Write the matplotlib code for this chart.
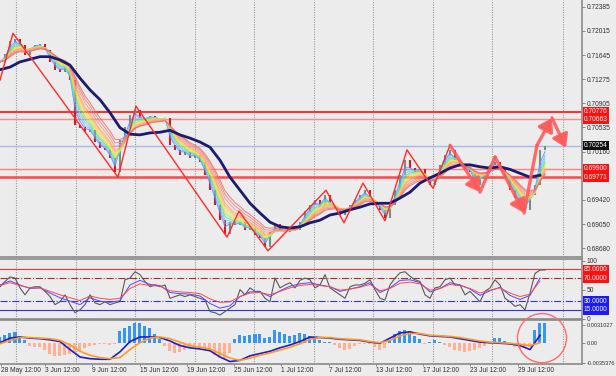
import matplotlib
matplotlib.use("Agg")
import matplotlib.pyplot as plt
import matplotlib.patches as patches
import pandas as pd

# price closes, one sample per 5 px of the original chart
closes = [0.7154, 0.7165, 0.7185, 0.7188, 0.7180, 0.7165, 0.7175, 0.7180, 0.7181, 0.7172,
          0.7154, 0.7142, 0.7138, 0.7145, 0.7126, 0.7057, 0.7053, 0.7046, 0.7049, 0.7031,
          0.7022, 0.7019, 0.7006, 0.6985, 0.7034, 0.7053, 0.7072, 0.7080, 0.7068, 0.7065,
          0.7071, 0.7068, 0.7065, 0.7068, 0.7026, 0.7019, 0.7011, 0.7016, 0.7006, 0.7011,
          0.7000, 0.6980, 0.6957, 0.6934, 0.6911, 0.6890, 0.6908, 0.6904, 0.6908, 0.6896,
          0.6899, 0.6888, 0.6884, 0.6870, 0.6893, 0.6904, 0.6896, 0.6893, 0.6899, 0.6896,
          0.6908, 0.6924, 0.6934, 0.6942, 0.6934, 0.6950, 0.6934, 0.6930, 0.6919, 0.6927,
          0.6934, 0.6942, 0.6950, 0.6957, 0.6942, 0.6934, 0.6927, 0.6914, 0.6934, 0.6957,
          0.6980, 0.7003, 0.6991, 0.6985, 0.6989, 0.6976, 0.6965, 0.6976, 0.6996, 0.7011,
          0.7019, 0.7003, 0.6996, 0.6989, 0.6985, 0.6965, 0.6973, 0.6985, 0.6996, 0.7000,
          0.6989, 0.6976, 0.6957, 0.6945, 0.6934, 0.6927, 0.6950, 0.6965, 0.7019, 0.7025]

# slow moving average (navy), one value every 2 samples
navy_ma = [0.7142, 0.7146, 0.7154, 0.7158, 0.7162, 0.7162, 0.7157, 0.7149, 0.7129, 0.7111,
           0.7096, 0.7076, 0.7053, 0.7043, 0.7042, 0.7045, 0.7046, 0.7049, 0.7042, 0.7037,
           0.7031, 0.7023, 0.7003, 0.6977, 0.6957, 0.6937, 0.6922, 0.6908, 0.6901, 0.6899,
           0.6901, 0.6907, 0.6911, 0.6919, 0.6922, 0.6927, 0.6931, 0.6936, 0.6937, 0.6937,
           0.6945, 0.6954, 0.6968, 0.6976, 0.6983, 0.6991, 0.6996, 0.6996, 0.6993, 0.6991,
           0.6993, 0.6989, 0.6983, 0.6977, 0.6980]

ribbon_spans = [2, 2.5, 3, 3.5, 4, 4.5, 5, 5.5, 6, 7, 8, 9]
ribbon_colors = ['#5a8cff', '#7ab4ff', '#66d4f0', '#5fe08a', '#9ee860', '#e8e84a',
                 '#ffd24d', '#ffb45a', '#ff9f70', '#ff8c80', '#f57a7a', '#e86a6a']

zigzag_x = [0, 2.6, 23.6, 27.2, 45.4, 47.8, 53.6, 65.2, 68.8, 72.6, 77.0, 81.4, 86.6, 90.0]
zigzag_y = [0.7126, 0.7198, 0.6977, 0.7086, 0.6885, 0.6925, 0.6864, 0.6957, 0.6907,
            0.6968, 0.6910, 0.7019, 0.6960, 0.7026]
# forecast path: thick segments, arrow heads on some
path_x = [90.0, 96.0, 99.0, 104.8, 107.4, 110.4, 113.2]
path_y = [0.7026, 0.6954, 0.7008, 0.6922, 0.7026, 0.7068, 0.7022]
path_arrow = [True, False, True, False, True, True]

hlines = [0.70776, 0.70663, 0.70254, 0.69900, 0.69771]
hline_colors = ['#ff2020', '#ff8888', '#a8b8f0', '#ff8080', '#ff4848']
hline_widths = [1.3, 1.0, 1.0, 1.0, 1.8]
hline_box = ['#ff1010', '#ff1010', '#101010', '#ff1010', '#ff1010']

price_ticks = [0.72385, 0.72015, 0.71645, 0.71275, 0.70905, 0.70535, 0.70160,
               0.69420, 0.69050, 0.68680]

# RSI panel
rsi_gray = [55, 64, 72, 70, 53, 41, 53, 55, 55, 47, 38, 24, 29, 41, 24, 10, 15, 24, 41, 27,
            24, 29, 24, 27, 29, 67, 70, 81, 76, 64, 55, 58, 55, 58, 35, 38, 41, 38, 41, 38,
            35, 32, 12, 10, 6, 12, 18, 24, 50, 41, 53, 47, 47, 35, 29, 70, 53, 58, 62, 53,
            66, 70, 67, 53, 58, 76, 53, 47, 41, 35, 55, 58, 58, 61, 67, 50, 35, 32, 58, 70,
            79, 81, 73, 67, 64, 41, 35, 53, 55, 67, 70, 58, 58, 41, 47, 38, 29, 47, 53, 67,
            58, 35, 29, 21, 24, 15, 44, 78, 84, 84]
rsi_blue = [58, 65, 58, 52, 53, 44, 36, 30, 24, 36, 30, 28, 31, 58, 66, 59, 57, 45, 43, 42,
            39, 26, 18, 22, 38, 46, 46, 38, 48, 56, 60, 62, 58, 55, 47, 51, 55, 62, 45, 53,
            66, 67, 62, 46, 52, 62, 58, 51, 40, 48, 54, 40, 33, 40, 70]
rsi_red = [57, 62, 57, 53, 53, 47, 41, 36, 31, 39, 35, 33, 35, 52, 60, 57, 56, 48, 46, 45,
           43, 34, 28, 29, 38, 44, 45, 41, 47, 53, 57, 59, 57, 55, 49, 51, 54, 59, 48, 52,
           61, 63, 60, 49, 52, 59, 57, 52, 44, 49, 53, 44, 38, 42, 65]
rsi_levels = [85, 70, 30, 15]
rsi_level_colors = ['#ff3030', '#c02828', '#3030ff', '#3030ff']
rsi_level_styles = ['-', '-.', '-.', '-']
rsi_box_colors = ['#ff1010', '#ff1010', '#1a1aff', '#1a1aff']

# MACD panel
macd_hist = [0.0010, 0.0014, 0.0017, 0.0019, 0.0012, 0.0004, -0.0005, -0.0007, -0.0008, -0.0012,
             -0.0020, -0.0023, -0.0024, -0.0022, -0.0019, -0.0016, -0.0014, -0.0009, -0.0005, -0.0004,
             -0.0003, -0.0003, -0.0004, -0.0002, 0.0020, 0.0025, 0.0030, 0.0034, 0.0034, 0.0030,
             0.0025, 0.0015, 0.0006, -0.0006, -0.0015, -0.0018, -0.0016, -0.0012, -0.0010, -0.0008,
             -0.0009, -0.0010, -0.0015, -0.0022, -0.0026, -0.0027, -0.0018, 0.0006, 0.0013, 0.0012,
             0.0014, 0.0016, 0.0015, 0.0008, 0.0010, 0.0022, 0.0019, 0.0015, 0.0012, 0.0014,
             0.0017, 0.0016, 0.0012, 0.0006, 0.0004, 0.0002, 0.0002, -0.0004, -0.0010, -0.0013,
             -0.0011, -0.0006, -0.0003, -0.0002, -0.0003, -0.0008, -0.0013, -0.0010, 0.0005, 0.0015,
             0.0021, 0.0022, 0.0020, 0.0012, 0.0006, -0.0003, 0.0002, 0.0004, 0.0002, -0.0004,
             -0.0008, -0.0012, -0.0015, -0.0016, -0.0014, -0.0012, -0.0010, -0.0005, -0.0002, 0.0008,
             0.0008, 0.0003, -0.0004, -0.0008, -0.0010, -0.0010, -0.0007, 0.0022, 0.0034, 0.0034]
macd_main = [0.0000, 0.0008, 0.0010, 0.0008, 0.0007, 0.0005, 0.0002, -0.0012, -0.0025, -0.0028,
             -0.0029, -0.0029, -0.0016, 0.0002, 0.0010, 0.0010, 0.0009, 0.0003, -0.0005, -0.0009,
             -0.0011, -0.0014, -0.0025, -0.0033, -0.0031, -0.0023, -0.0019, -0.0015, -0.0009, -0.0004,
             0.0002, 0.0010, 0.0009, 0.0008, 0.0006, 0.0005, 0.0004, 0.0001, -0.0001, 0.0008,
             0.0017, 0.0019, 0.0015, 0.0012, 0.0011, 0.0010, 0.0007, 0.0004, 0.0001, 0.0000,
             -0.0001, -0.0002, -0.0005, -0.0012, 0.0013]
macd_signal = [-0.0002, 0.0004, 0.0009, 0.0009, 0.0008, 0.0007, 0.0004, -0.0004, -0.0015, -0.0022,
               -0.0026, -0.0028, -0.0026, -0.0012, 0.0000, 0.0008, 0.0010, 0.0007, 0.0001, -0.0005,
               -0.0008, -0.0011, -0.0019, -0.0027, -0.0031, -0.0027, -0.0022, -0.0018, -0.0013, -0.0008,
               -0.0002, 0.0006, 0.0009, 0.0009, 0.0007, 0.0006, 0.0005, 0.0002, 0.0000, 0.0004,
               0.0012, 0.0016, 0.0016, 0.0013, 0.0012, 0.0011, 0.0009, 0.0006, 0.0003, 0.0001,
               0.0000, -0.0001, -0.0003, -0.0005, 0.0000]
macd_ticks = [0.0031027, 0.0, -0.0035376]
macd_labels = ['0.0031027', '0.00', '-0.0035376']
circle_center = (108.4, 0.0008)
circle_size = (9.8, 0.0086)

time_labels = ['28 May 12:00', '3 Jun 12:00', '9 Jun 12:00', '15 Jun 12:00', '19 Jun 12:00',
               '25 Jun 12:00', '1 Jul 12:00', '7 Jul 12:00', '13 Jul 12:00', '17 Jul 12:00',
               '23 Jul 12:00', '29 Jul 12:00']
time_pos = [0.2, 9, 18.5, 28, 37.4, 46.8, 56.3, 65.8, 75.2, 84.6, 94.1, 103.6]
week_grid = [3.2, 15.2, 27, 39, 50.8, 62.8, 74.6, 86.6, 98.4, 112.6]

BG = '#ececec'
FONT = 'Liberation Sans'
FS = 4.8
plt.rcParams['font.family'] = [FONT, 'DejaVu Sans']

W, H = 616, 376
fig = plt.figure(figsize=(W / 100, H / 100), dpi=100, facecolor=BG)


def rect(top, bottom):
    return [0, 1 - bottom / H, 582 / W, (bottom - top) / H]


ax1 = fig.add_axes(rect(0, 257))
ax2 = fig.add_axes(rect(259, 318.5), sharex=ax1)
ax3 = fig.add_axes(rect(320, 364), sharex=ax1)

for ax in (ax1, ax2, ax3):
    ax.set_facecolor(BG)
    ax.spines['left'].set_visible(False)
    for s in ('top', 'bottom', 'right'):
        ax.spines[s].set_color('#8a8a8a')
        ax.spines[s].set_linewidth(1.2)
    ax.yaxis.tick_right()
    ax.tick_params(axis='y', length=2.5, width=0.6, color='#777777', pad=1,
                   labelsize=FS, labelcolor='#333333')
    for g in week_grid:
        ax.axvline(g, color='#9a9a9a', lw=0.8, ls=(0, (1, 1.2)), zorder=0)
ax1.spines['top'].set_visible(False)

xs = list(range(len(closes)))
xs2 = [2 * i for i in range(len(navy_ma))]
ax1.set_xlim(0, 116.4)

# --- main price panel ---
ax1.set_ylim(0.68545, 0.7249)
for i, c in enumerate(closes):
    o = closes[i - 1] if i > 0 else c
    col = '#6f9282' if c >= o else '#c8202a'
    ax1.vlines(i, min(o, c), max(o, c) + 0.00004, colors=col, lw=1.5, zorder=2)

cs = pd.Series(closes)
for span, col in zip(ribbon_spans, ribbon_colors):
    ema = cs.ewm(span=span, adjust=False).mean()
    ax1.plot(xs, ema, color=col, lw=0.7, alpha=0.85, zorder=3)

ax1.plot(xs2, navy_ma, color='#1c1c6e', lw=2.0, zorder=4)
ax1.plot(zigzag_x, zigzag_y, color='#ff2a2a', lw=1.0, zorder=5)

for k in range(len(path_x) - 1):
    start = (path_x[k], path_y[k])
    end = (path_x[k + 1], path_y[k + 1])
    style = '-|>,head_length=0.7,head_width=0.45' if path_arrow[k] else '-'
    ax1.annotate('', xy=end, xytext=start,
                 arrowprops=dict(arrowstyle=style, lw=2.4, color='#ff5a5a', alpha=0.9,
                                 mutation_scale=11, shrinkA=0, shrinkB=0), zorder=6)

for val, col, lw, box in zip(hlines, hline_colors, hline_widths, hline_box):
    ax1.axhline(val, color=col, lw=lw, zorder=1)
    ax1.text(1.003, val, '%.5f' % val, transform=ax1.get_yaxis_transform(), ha='left',
             va='center', fontsize=FS, color='white', clip_on=False, zorder=10,
             bbox=dict(boxstyle='square,pad=0.18', fc=box, ec='none'))

ax1.set_yticks(price_ticks)
ax1.set_yticklabels(['%.5f' % v for v in price_ticks])
ax1.tick_params(axis='x', bottom=False, labelbottom=False)

# --- RSI panel ---
ax2.set_ylim(0, 103)
for lev, col, ls in zip(rsi_levels, rsi_level_colors, rsi_level_styles):
    ax2.axhline(lev, color=col, lw=0.8, ls=ls, zorder=1)
ax2.plot(xs, rsi_gray, color='#5a5a5a', lw=0.8, zorder=3)
ax2.plot(xs2, rsi_blue, color='#4a4aff', lw=0.7, zorder=4)
ax2.plot(xs2, rsi_red, color='#ff4a4a', lw=0.7, zorder=4)
ax2.set_yticks([0, 50, 100])
ax2.set_yticklabels(['0', '50', '100'])
for lev, box in zip(rsi_levels, rsi_box_colors):
    ax2.text(1.003, lev, '%.4f' % lev, transform=ax2.get_yaxis_transform(), ha='left',
             va='center', fontsize=FS, color='white', clip_on=False, zorder=10,
             bbox=dict(boxstyle='square,pad=0.18', fc=box, ec='none'))
ax2.tick_params(axis='x', bottom=False, labelbottom=False)

# --- MACD panel ---
ax3.set_ylim(-0.00373, 0.00397)
hist_cols = ['#3796f2' if v >= 0 else '#ffb095' for v in macd_hist]
ax3.bar(xs, macd_hist, width=0.6, color=hist_cols, zorder=2)
ax3.plot(xs2, macd_main, color='#1e1ec8', lw=1.2, zorder=3)
ax3.plot(xs2, macd_signal, color='#ff9a22', lw=1.2, zorder=4)
ax3.set_yticks(macd_ticks)
ax3.set_yticklabels(macd_labels)
ax3.tick_params(axis='y', labelsize=4.1, pad=0.6)
ax3.add_patch(patches.Ellipse(circle_center, circle_size[0], circle_size[1], fill=False,
                              ec='#ff6b6b', lw=1.0, clip_on=False, zorder=8))

ax3.set_xticks(time_pos)
ax3.set_xticklabels(time_labels, ha='left')
ax3.tick_params(axis='x', length=1.5, width=0.6, color='#777777', pad=0.6,
                labelsize=FS, labelcolor='#333333')
ax3.set_xlim(0, 116.4)

fig.savefig('out.png', dpi=100, facecolor=BG)
